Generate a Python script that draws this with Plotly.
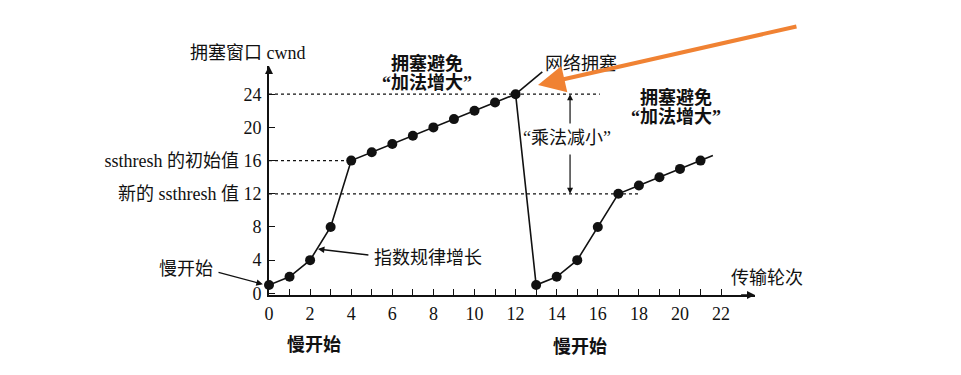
import plotly.graph_objects as go

# ---- data ----
rounds = list(range(0, 22))
cwnd = [1, 2, 4, 8, 16, 17, 18, 19, 20, 21, 22, 23, 24,
        1, 2, 4, 8, 12, 13, 14, 15, 16]
congestion_x = [12, 13.3]
congestion_y = [24, 26.7]
tail_x = [21, 21.6]
tail_y = [16, 16.6]
peak = 24
ssthresh_init = 16
ssthresh_new = 12
x_ticks = list(range(0, 23))
x_ticktext = [str(v) if v % 2 == 0 else "" for v in x_ticks]
y_ticks = [0, 4, 8, 12, 16, 20, 24]
y_ticktext = ["0", "4", "8", "新的 ssthresh 值 12", "ssthresh 的初始值 16", "20", "24"]

FONT = "Liberation Serif, Noto Sans CJK SC, serif"
INK = "#111111"
ORANGE = "#F08233"

X_RANGE = [0, 23.65]
Y_RANGE = [-0.2, 27.4]
W, H = 961, 375
M = dict(l=261, r=214, t=58, b=88)
PW = W - M["l"] - M["r"]
PH = H - M["t"] - M["b"]
PXU = PW / (X_RANGE[1] - X_RANGE[0])
PYU = PH / (Y_RANGE[1] - Y_RANGE[0])

def px(x):
    return (x - X_RANGE[0]) / (X_RANGE[1] - X_RANGE[0])

def py(y):
    return (y - Y_RANGE[0]) / (Y_RANGE[1] - Y_RANGE[0])

fig = go.Figure()

# dashed reference lines
for xe, yv in [(16.1, peak), (4, ssthresh_init), (18, ssthresh_new)]:
    fig.add_trace(go.Scatter(x=[0, xe], y=[yv, yv], mode="lines",
                             line=dict(color=INK, width=1.2, dash="3px,3px"),
                             hoverinfo="skip", showlegend=False, cliponaxis=False))

# extensions
fig.add_trace(go.Scatter(x=congestion_x, y=congestion_y, mode="lines",
                         line=dict(color=INK, width=1.6), showlegend=False, cliponaxis=False))
fig.add_trace(go.Scatter(x=tail_x, y=tail_y, mode="lines",
                         line=dict(color=INK, width=1.6), showlegend=False, cliponaxis=False))

# main curve
fig.add_trace(go.Scatter(x=rounds, y=cwnd, mode="lines+markers",
                         line=dict(color=INK, width=1.6),
                         marker=dict(color=INK, size=10),
                         showlegend=False, cliponaxis=False))

ann = []
def txt(x, y, t, size=18, bold=False, xanchor="center"):
    ann.append(dict(x=px(x), y=py(y), xref="paper", yref="paper",
                    text=("<b>%s</b>" % t) if bold else t,
                    showarrow=False, xanchor=xanchor, yanchor="middle",
                    font=dict(family=FONT, size=size, color=INK)))

def arrow(x, y, ax, ay, color=INK, width=1.3, head=2, hsize=1.0):
    ann.append(dict(x=px(x), y=py(y), xref="paper", yref="paper",
                    ax=(ax - x) * PXU, ay=-(ay - y) * PYU,
                    text="", showarrow=True, arrowhead=head, arrowsize=hsize,
                    arrowwidth=width, arrowcolor=color))

# axis end arrows
arrow(23.65, -0.2, 22.9, -0.2, width=1.6)
arrow(0, 27.4, 0, 26.4, width=1.6)

txt(-1.02, 28.95, "拥塞窗口 cwnd")
txt(24.23, 1.84, "传输轮次")

txt(7.7, 27.7, "拥塞避免", bold=True)
txt(7.7, 25.4, "“加法增大”", bold=True)
txt(19.8, 23.6, "拥塞避免", bold=True)
txt(19.8, 21.2, "“加法增大”", bold=True)

txt(13.33, 27.7, "网络拥塞", xanchor="left")
txt(14.5, 18.7, "“乘法减小”")
arrow(14.65, 24, 14.65, 20.3, width=1.2)
arrow(14.65, 12, 14.65, 16.9, width=1.2)

txt(-4.04, 2.94, "慢开始")
arrow(-0.3, 1.1, -2.53, 2.57, width=1.3)

txt(5.0, 4.25, "指数规律增长", xanchor="left")
arrow(2.38, 5.34, 4.91, 4.6, width=1.3)

txt(2.19, -6.2, "慢开始", bold=True)
txt(15.13, -6.47, "慢开始", bold=True)

# orange pointer
arrow(13.09, 25.1, 25.74, 32.2, color=ORANGE, width=4, head=2, hsize=1.35)

fig.update_layout(
    width=W, height=H,
    margin=M,
    paper_bgcolor="white", plot_bgcolor="white",
    annotations=ann,
    showlegend=False,
    xaxis=dict(range=X_RANGE, showgrid=False, zeroline=False, showline=True,
               linecolor=INK, linewidth=1.6, ticks="inside", ticklen=6, tickwidth=1.3,
               tickcolor=INK, tickvals=x_ticks, ticktext=x_ticktext,
               tickfont=dict(family=FONT, size=18, color=INK), ticklabelstandoff=2),
    yaxis=dict(range=Y_RANGE, showgrid=False, zeroline=False, showline=True,
               linecolor=INK, linewidth=1.6, ticks="inside", ticklen=6, tickwidth=1.3,
               tickcolor=INK, tickvals=y_ticks, ticktext=y_ticktext,
               tickfont=dict(family=FONT, size=18, color=INK), ticklabelstandoff=2),
)

fig.write_html("out.html")
